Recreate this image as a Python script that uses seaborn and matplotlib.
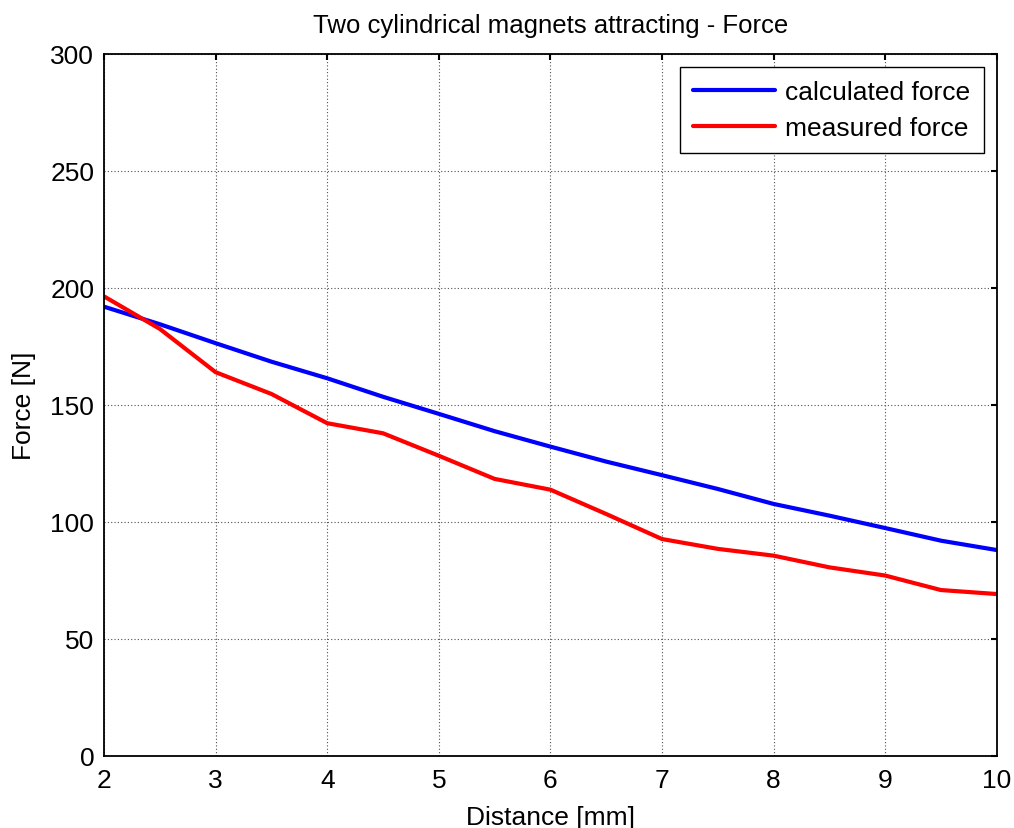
import numpy as np
import pandas as pd
import matplotlib
matplotlib.use("Agg")
import matplotlib.pyplot as plt
import seaborn as sns

distance = [2, 2.5, 3, 3.5, 4, 4.5, 5, 5.5, 6, 6.5, 7, 7.5, 8, 8.5, 9, 9.5, 10]
calculated = [192.0, 184.5, 176.4, 168.5, 161.4, 153.5, 146.2, 138.8, 132.2, 125.8,
              120.0, 114.1, 107.7, 102.7, 97.4, 92.0, 88.0]
measured = [196.4, 182.5, 164.0, 154.7, 142.2, 137.9, 128.3, 118.4, 113.8, 103.4,
            92.7, 88.5, 85.6, 80.6, 77.1, 70.9, 69.2]
series_names = ["calculated force", "measured force"]
colors = ["#0000ff", "#ff0000"]
xticks = [2, 3, 4, 5, 6, 7, 8, 9, 10]
yticks = [0, 50, 100, 150, 200, 250, 300]

df = pd.DataFrame({
    "Distance": distance * 2,
    "Force": calculated + measured,
    "series": [series_names[0]] * len(distance) + [series_names[1]] * len(distance),
})

sns.set_style("white")
plt.rcParams['font.family'] = ['Liberation Sans', 'DejaVu Sans']
plt.rcParams['text.color'] = 'black'
plt.rcParams['axes.labelcolor'] = 'black'

fig = plt.figure(figsize=(10.14, 8.29), dpi=100)
ax = fig.add_axes([0.1026, 0.0869, 0.8804, 0.8468])

sns.lineplot(data=df, x="Distance", y="Force", hue="series", palette=colors,
             linewidth=3, ax=ax, legend=True)

ax.set_xlim(2, 10)
ax.set_ylim(0, 300)
ax.set_xticks(xticks)
ax.set_yticks(yticks)
ax.grid(True, linestyle=(0, (1, 2)), color="#505050", linewidth=0.8)
ax.tick_params(direction="in", length=4, width=1.5, top=True, right=True,
               labelsize=19, colors="black", pad=7)
ax.tick_params(axis="x", pad=9)
for s in ax.spines.values():
    s.set_visible(True)
    s.set_color("black")
    s.set_linewidth(1.3)

ax.set_xlabel("Distance [mm]", fontsize=19, labelpad=9)
ax.set_ylabel("Force [N]", fontsize=19, labelpad=10)
ax.set_title("Two cylindrical magnets attracting - Force", fontsize=18.5, pad=16)

leg = ax.legend(loc="upper right", fontsize=19, frameon=True, fancybox=False,
                edgecolor="black", framealpha=1, handlelength=3.1,
                borderaxespad=0.5, borderpad=0.5, labelspacing=0.44,
                handletextpad=0.4)
leg.get_frame().set_linewidth(1.0)

fig.savefig("out.png", dpi=100)
